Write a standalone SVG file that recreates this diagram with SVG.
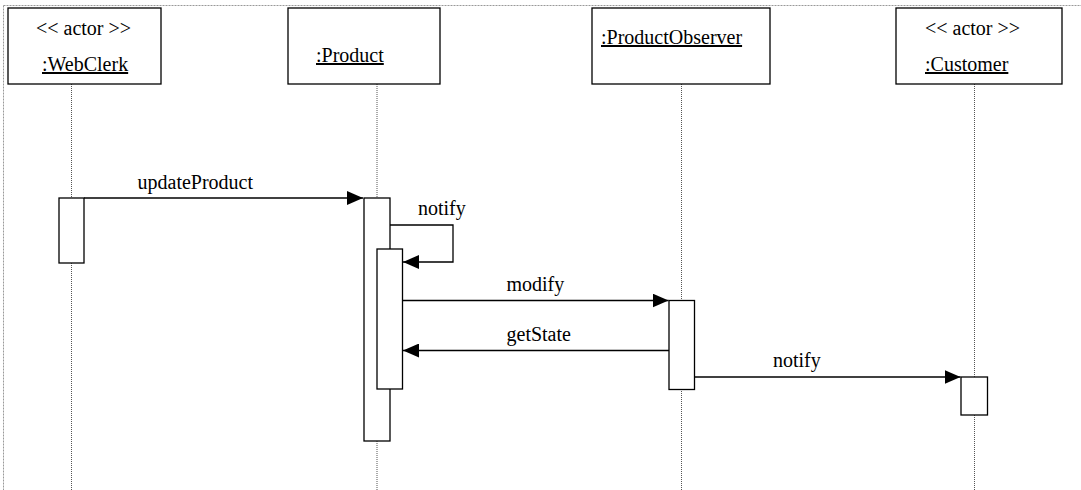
<svg xmlns="http://www.w3.org/2000/svg" width="1081" height="490" viewBox="0 0 1081 490">
<style>
.box{fill:#fff;stroke:#000;stroke-width:1.3}
.act{fill:#fff;stroke:#000;stroke-width:1.3}
.life{stroke:#555;stroke-width:1;stroke-dasharray:1 1;fill:none}
.border{stroke:#999;stroke-width:1;stroke-dasharray:2 1;fill:none}
.msg{stroke:#000;stroke-width:1.3;fill:none}
text{font-size:20px;fill:#000}
.u{text-decoration:underline}
</style>
<defs>
<marker id="ah" markerUnits="userSpaceOnUse" markerWidth="16" markerHeight="14" refX="16" refY="7" orient="auto">
<path d="M0,0 L16,7 L0,14 z" fill="#000"/>
</marker>
</defs>
<rect width="1081" height="490" fill="#fff"/>
<g id="border">
<line class="border" x1="3.5" y1="5.5" x2="1081" y2="5.5"/>
<line class="border" x1="3.5" y1="5.5" x2="3.5" y2="490"/>
</g>
<g id="lifelines">
<line class="life" x1="71.5" y1="84" x2="71.5" y2="198"/>
<line class="life" x1="71.5" y1="263" x2="71.5" y2="490"/>
<line class="life" x1="377" y1="84" x2="377" y2="198"/>
<line class="life" x1="377" y1="441" x2="377" y2="490"/>
<line class="life" x1="681.5" y1="84" x2="681.5" y2="300"/>
<line class="life" x1="681.5" y1="389" x2="681.5" y2="490"/>
<line class="life" x1="974.5" y1="84" x2="974.5" y2="377"/>
<line class="life" x1="974.5" y1="415" x2="974.5" y2="490"/>
</g>
<g font-family="'Liberation Serif', 'Times New Roman', serif">
<g id="webclerk">
<rect class="box" x="8" y="8" width="153" height="76"/>
<text x="36" y="35">&lt;&lt; actor &gt;&gt;</text>
<text class="u" x="42" y="71">:WebClerk</text>
</g>
<g id="product">
<rect class="box" x="288" y="8" width="152" height="76"/>
<text class="u" x="316" y="62">:Product</text>
</g>
<g id="productobserver">
<rect class="box" x="592" y="8" width="178" height="76"/>
<text class="u" x="601" y="44">:ProductObserver</text>
</g>
<g id="customer">
<rect class="box" x="896" y="8" width="166" height="76"/>
<text x="925" y="35">&lt;&lt; actor &gt;&gt;</text>
<text class="u" x="925" y="71">:Customer</text>
</g>
<g id="activations">
<rect class="act" x="59" y="198" width="25" height="65"/>
<rect class="act" x="364" y="198" width="26" height="243"/>
<rect class="act" x="377" y="249" width="25.5" height="140"/>
<rect class="act" x="669" y="300.5" width="25.5" height="89"/>
<rect class="act" x="961" y="377" width="26.5" height="38"/>
</g>
<g id="connectors">
<line class="msg" x1="84" y1="198" x2="363" y2="198" marker-end="url(#ah)"/>
<polyline class="msg" points="390,225 453,225 453,262 403,262" marker-end="url(#ah)"/>
<line class="msg" x1="402.5" y1="300.5" x2="668.5" y2="300.5" marker-end="url(#ah)"/>
<line class="msg" x1="669" y1="350.5" x2="403" y2="350.5" marker-end="url(#ah)"/>
<line class="msg" x1="694.5" y1="377" x2="960.5" y2="377" marker-end="url(#ah)"/>
</g>
<g id="labels">
<text x="137.5" y="189">updateProduct</text>
<text x="418" y="215">notify</text>
<text x="506.5" y="291">modify</text>
<text x="506.5" y="341">getState</text>
<text x="773" y="367">notify</text>
</g>
</g>
</svg>
